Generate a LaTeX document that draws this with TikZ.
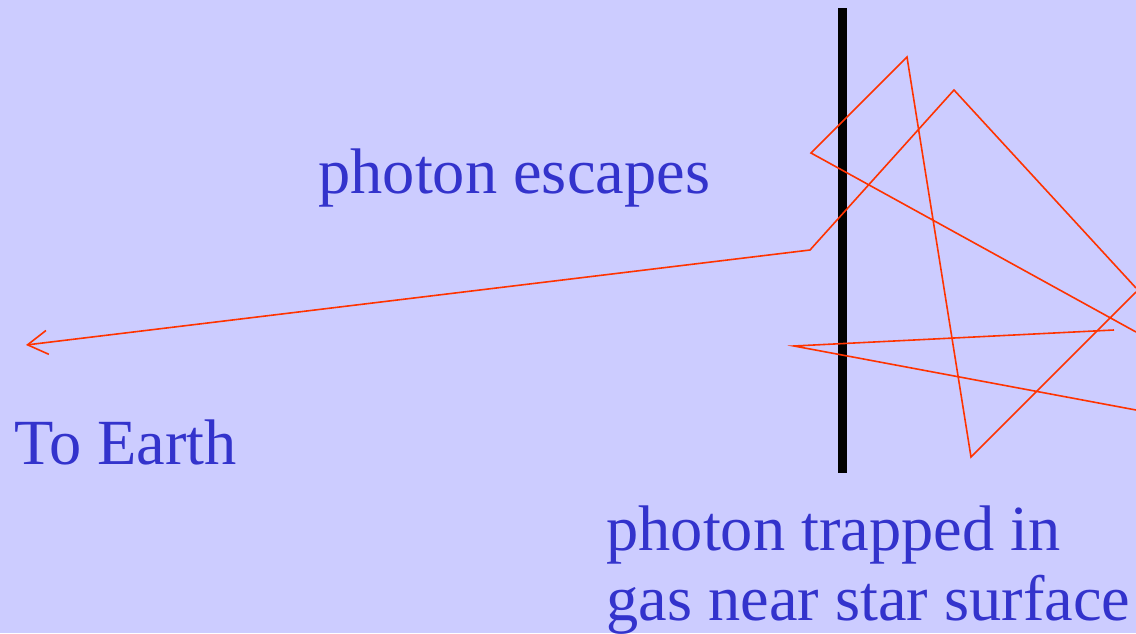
\documentclass[tikz,border=0pt]{standalone}
\usepackage{fontspec}
\setmainfont{Liberation Serif}
\usepackage{tikz}
\usetikzlibrary{positioning,arrows.meta,calc}
\definecolor{skybg}{HTML}{CCCCFF}
\definecolor{txtblue}{HTML}{3333CC}
\definecolor{rayred}{HTML}{FF3300}

\begin{document}
\begin{tikzpicture}[
            x=0.5pt, y=-0.5pt,
            caption/.style={anchor=base west, inner sep=0pt, text=txtblue, font=\fontsize{32.2}{36}\selectfont},
            ray/.style={draw=rayred, line width=0.8pt, line join=miter},
            arrow/.style={ray, -{Straight Barb[length=10pt, width=12pt]}},
            surface/.style={draw=black, line width=4.5pt}
        ]
            \fill[skybg] (0,0) rectangle (1136,633);
            \useasboundingbox (0,0) rectangle (1136,633);
            % star surface
            \coordinate (top) at (842.5,8);
            \coordinate (bot) at (842.5,473);
            \draw[surface] (top) -- (bot);
            % photon path
            \coordinate (e0) at (1136,288);
            \coordinate (e1) at (954,90);
            \coordinate (e2) at (810,250);
            \coordinate (earth) at (26,345);
            \draw[arrow] (e0) -- (e1) -- (e2) -- (earth);
            \coordinate (t0) at (1136,292);
            \coordinate (t1) at (971,457);
            \coordinate (t2) at (907,57);
            \coordinate (t3) at (811,153);
            \coordinate (t4) at (1136,332);
            \draw[ray] (t0) -- (t1) -- (t2) -- (t3) -- (t4);
            \coordinate (s0) at (1114,330);
            \coordinate (s1) at (794,346);
            \coordinate (s2) at (1136,410);
            \draw[ray] (s0) -- (s1) -- (s2);
            % labels
            \node[caption] (escapes) at (318,193) {photon escapes};
            \node[caption] (toearth) at (14,464) {To Earth};
            \node[caption] (trapped) at (606,550) {photon trapped in};
            \node[caption] (gas) at (606,620) {gas near star surface};
        \end{tikzpicture}
\end{document}
